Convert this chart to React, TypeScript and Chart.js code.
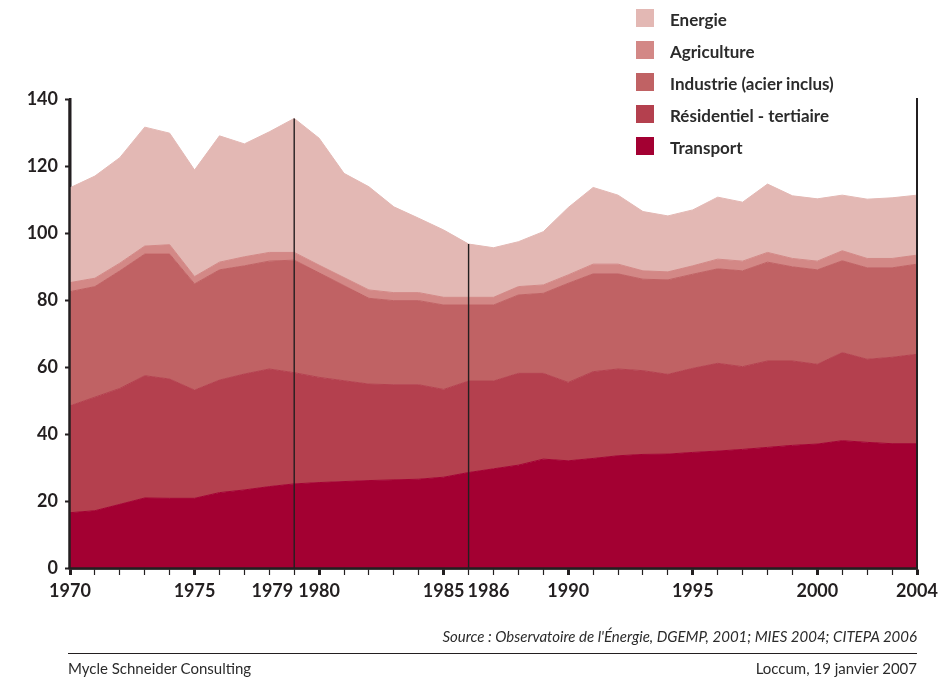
import React, { useEffect, useRef } from "react";
import { Chart, registerables } from "chart.js";

Chart.register(...registerables);

// ---- Data ----
const years = [
  1970, 1971, 1972, 1973, 1974, 1975, 1976, 1977, 1978, 1979,
  1980, 1981, 1982, 1983, 1984, 1985, 1986, 1987, 1988, 1989,
  1990, 1991, 1992, 1993, 1994, 1995, 1996, 1997, 1998, 1999,
  2000, 2001, 2002, 2003, 2004,
];

const transport = [
  16.5, 17.1, 19.0, 20.9, 20.8, 20.8, 22.5, 23.3, 24.3, 25.1,
  25.5, 25.8, 26.1, 26.3, 26.5, 27.1, 28.5, 29.6, 30.7, 32.5,
  32.0, 32.7, 33.5, 33.9, 34.0, 34.5, 34.9, 35.4, 36.0, 36.6,
  37.0, 38.0, 37.5, 37.1, 37.1,
];

const residentiel = [
  31.9, 33.9, 34.6, 36.5, 35.6, 32.3, 33.6, 34.6, 35.1, 33.2,
  31.4, 30.1, 28.8, 28.4, 28.2, 26.2, 27.3, 26.2, 27.4, 25.6,
  23.4, 25.9, 25.9, 25.0, 23.8, 25.1, 26.2, 24.7, 25.8, 25.2,
  23.8, 26.3, 24.8, 25.8, 26.7,
];

const industrie = [
  34.1, 33.0, 35.1, 36.3, 37.3, 31.7, 32.9, 32.3, 32.2, 33.6,
  31.2, 28.4, 25.6, 25.1, 25.1, 25.2, 22.7, 22.7, 23.4, 23.9,
  29.6, 29.2, 28.4, 27.3, 28.2, 28.1, 28.2, 28.6, 29.5, 28.1,
  28.2, 27.4, 27.3, 26.7, 26.9,
];

const agriculture = [
  2.7, 2.5, 2.3, 2.4, 2.8, 2.2, 2.3, 2.7, 2.6, 2.3,
  2.3, 2.4, 2.5, 2.4, 2.4, 2.3, 2.3, 2.3, 2.5, 2.5,
  2.5, 2.9, 2.9, 2.5, 2.4, 2.5, 2.9, 2.9, 2.9, 2.5,
  2.6, 3.0, 2.8, 2.8, 2.7,
];

const energie = [
  28.3, 30.5, 31.5, 35.5, 33.3, 31.8, 37.7, 33.7, 36.0, 40.0,
  37.9, 31.1, 30.8, 25.6, 22.2, 20.1, 15.9, 14.8, 13.4, 15.9,
  20.1, 22.9, 20.6, 17.7, 16.7, 16.7, 18.5, 17.6, 20.4, 18.7,
  18.6, 16.6, 17.7, 18.1, 17.9,
];

const seriesNames = [
  "Transport",
  "Résidentiel - tertiaire",
  "Industrie (acier inclus)",
  "Agriculture",
  "Energie",
];
const seriesColors = ["#A30032", "#B4404E", "#C06264", "#D38886", "#E3B8B4"];
const seriesValues = [transport, residentiel, industrie, agriculture, energie];

const centeredLabelYears = [1970, 1975, 1980, 1985, 1990, 1995, 2000, 2004];
const endLabelYears = [1979]; // label ends at the tick
const startLabelYears = [1986]; // label starts at the tick
const majorTickYears = [1970, 1975, 1980, 1985, 1990, 1995, 2000, 2004];
const markerYears = [1979, 1986];

const yMin = 0;
const yMax = 140;
const yStep = 20;

const sourceText =
  "Source : Observatoire de l'Énergie, DGEMP, 2001; MIES 2004; CITEPA 2006";
const footerLeft = "Mycle Schneider Consulting";
const footerRight = "Loccum, 19 janvier 2007";

const INK = "#231f20";
const FONT = "Lato, 'Open Sans', sans-serif";

const overlayPlugin = {
  id: "overlay",
  afterDraw(chart: any) {
    const { ctx, chartArea } = chart;
    const x = chart.scales.x;
    const y = chart.scales.y;
    ctx.save();
    // axis lines redrawn above the filled areas
    ctx.strokeStyle = INK;
    ctx.lineWidth = 2.5;
    ctx.beginPath();
    ctx.moveTo(chartArea.left - 0.5, chartArea.top);
    ctx.lineTo(chartArea.left - 0.5, chartArea.bottom + 1);
    ctx.stroke();
    ctx.lineWidth = 2;
    ctx.beginPath();
    ctx.moveTo(chartArea.right, chartArea.top);
    ctx.lineTo(chartArea.right, chartArea.bottom + 1);
    ctx.stroke();
    ctx.lineWidth = 2.5;
    ctx.beginPath();
    ctx.moveTo(chartArea.left - 1.5, chartArea.bottom + 0.5);
    ctx.lineTo(chartArea.right + 1, chartArea.bottom + 0.5);
    ctx.stroke();
    // marker lines at 1979 and 1986
    ctx.lineWidth = 1.4;
    markerYears.forEach((yr) => {
      const i = years.indexOf(yr);
      const total = seriesValues.reduce((s, arr) => s + arr[i], 0);
      const px = x.getPixelForValue(yr);
      ctx.beginPath();
      ctx.moveTo(px, y.getPixelForValue(total));
      ctx.lineTo(px, y.getPixelForValue(0));
      ctx.stroke();
    });
    // side-aligned tick labels
    const items = x.getLabelItems ? x.getLabelItems() : [];
    const ref = items.find((it: any) => it.label === "1970");
    let ly = x.top + 13;
    let baseline = "top";
    if (ref) {
      ly = ref.options.translation[1] + (ref.textOffset || 0);
      baseline = ref.options.textBaseline;
    }
    ctx.font = `bold 18px ${FONT}`;
    ctx.fillStyle = INK;
    ctx.textBaseline = baseline;
    endLabelYears.forEach((yr) => {
      ctx.textAlign = "right";
      ctx.fillText(String(yr), x.getPixelForValue(yr) - 1, ly);
    });
    startLabelYears.forEach((yr) => {
      ctx.textAlign = "left";
      ctx.fillText(String(yr), x.getPixelForValue(yr) - 1, ly);
    });
    ctx.restore();
  },
};

function ChartCanvas() {
  const ref = useRef<HTMLCanvasElement | null>(null);
  useEffect(() => {
    if (!ref.current) return;
    const chart = new Chart(ref.current, {
      type: "line",
      data: {
        datasets: seriesValues.map((vals, k) => ({
          label: seriesNames[k],
          data: years.map((yr, i) => ({ x: yr, y: vals[i] })),
          backgroundColor: seriesColors[k],
          borderColor: seriesColors[k],
          borderWidth: 1,
          pointRadius: 0,
          tension: 0,
          fill: k === 0 ? "origin" : "-1",
        })),
      },
      options: {
        animation: false,
        responsive: false,
        maintainAspectRatio: false,
        devicePixelRatio: 1,
        layout: { padding: { left: 0, top: 99, right: 32, bottom: 69 } },
        plugins: {
          legend: { display: false },
          tooltip: { enabled: false },
        },
        scales: {
          x: {
            type: "linear",
            min: 1970,
            max: 2004,
            afterFit: (s: any) => {
              s.height = 40;
            },
            ticks: {
              stepSize: 1,
              autoSkip: false,
              maxRotation: 0,
              padding: 5,
              color: INK,
              font: { family: FONT, size: 18, weight: "bold" },
              callback: (v: any) =>
                centeredLabelYears.includes(Number(v)) ? String(v) : "",
            },
            grid: {
              display: true,
              drawOnChartArea: false,
              tickLength: 7,
              tickColor: INK,
              tickWidth: (c: any) =>
                c.tick && majorTickYears.includes(c.tick.value) ? 3 : 1.2,
            },
            border: { display: true, color: INK, width: 2.5 },
          },
          y: {
            stacked: true,
            min: yMin,
            max: yMax,
            afterFit: (s: any) => {
              s.width = 70;
            },
            ticks: {
              stepSize: yStep,
              padding: 7,
              color: INK,
              font: { family: FONT, size: 18, weight: "bold" },
            },
            grid: {
              display: true,
              drawOnChartArea: false,
              tickLength: 5,
              tickColor: INK,
              tickWidth: 2,
            },
            border: { display: true, color: INK, width: 2.5 },
          },
          y2: {
            position: "right",
            min: yMin,
            max: yMax,
            afterFit: (s: any) => {
              s.width = 0;
            },
            ticks: { display: false },
            grid: { display: false },
            border: { display: true, color: INK, width: 2 },
          },
        },
      },
      plugins: [overlayPlugin],
    } as any);
    return () => chart.destroy();
  }, []);
  return (
    <canvas
      ref={ref}
      width={949}
      height={677}
      style={{ position: "absolute", left: 0, top: 0, width: 949, height: 677 }}
    />
  );
}

export default function App() {
  const legendOrder = [4, 3, 2, 1, 0];
  return (
    <div
      style={{
        position: "fixed",
        left: 0,
        top: 0,
        width: 949,
        height: 677,
        background: "#fff",
        fontFamily: FONT,
        color: "#2b2b2b",
        overflow: "hidden",
      }}
    >
      <ChartCanvas />
      {legendOrder.map((k, row) => (
        <div
          key={k}
          style={{
            position: "absolute",
            left: 636,
            top: 9 + row * 32,
            height: 18,
            display: "flex",
            alignItems: "center",
          }}
        >
          <div style={{ width: 18, height: 18, background: seriesColors[k] }} />
          <div
            style={{
              marginLeft: 16,
              fontWeight: 700,
              fontSize: 17,
              lineHeight: "18px",
              position: "relative",
              top: 2,
              whiteSpace: "nowrap",
            }}
          >
            {seriesNames[k]}
          </div>
        </div>
      ))}
      <div
        style={{
          position: "absolute",
          right: 949 - 917,
          top: 627,
          fontSize: 15,
          fontStyle: "italic",
          whiteSpace: "nowrap",
        }}
      >
        {sourceText}
      </div>
      <div
        style={{
          position: "absolute",
          left: 68,
          top: 653,
          width: 917 - 68,
          height: 0,
          borderTop: "1.5px solid #231f20",
        }}
      />
      <div
        style={{
          position: "absolute",
          left: 68,
          top: 659,
          fontSize: 15,
          whiteSpace: "nowrap",
        }}
      >
        {footerLeft}
      </div>
      <div
        style={{
          position: "absolute",
          right: 949 - 917,
          top: 659,
          fontSize: 15,
          whiteSpace: "nowrap",
        }}
      >
        {footerRight}
      </div>
    </div>
  );
}
